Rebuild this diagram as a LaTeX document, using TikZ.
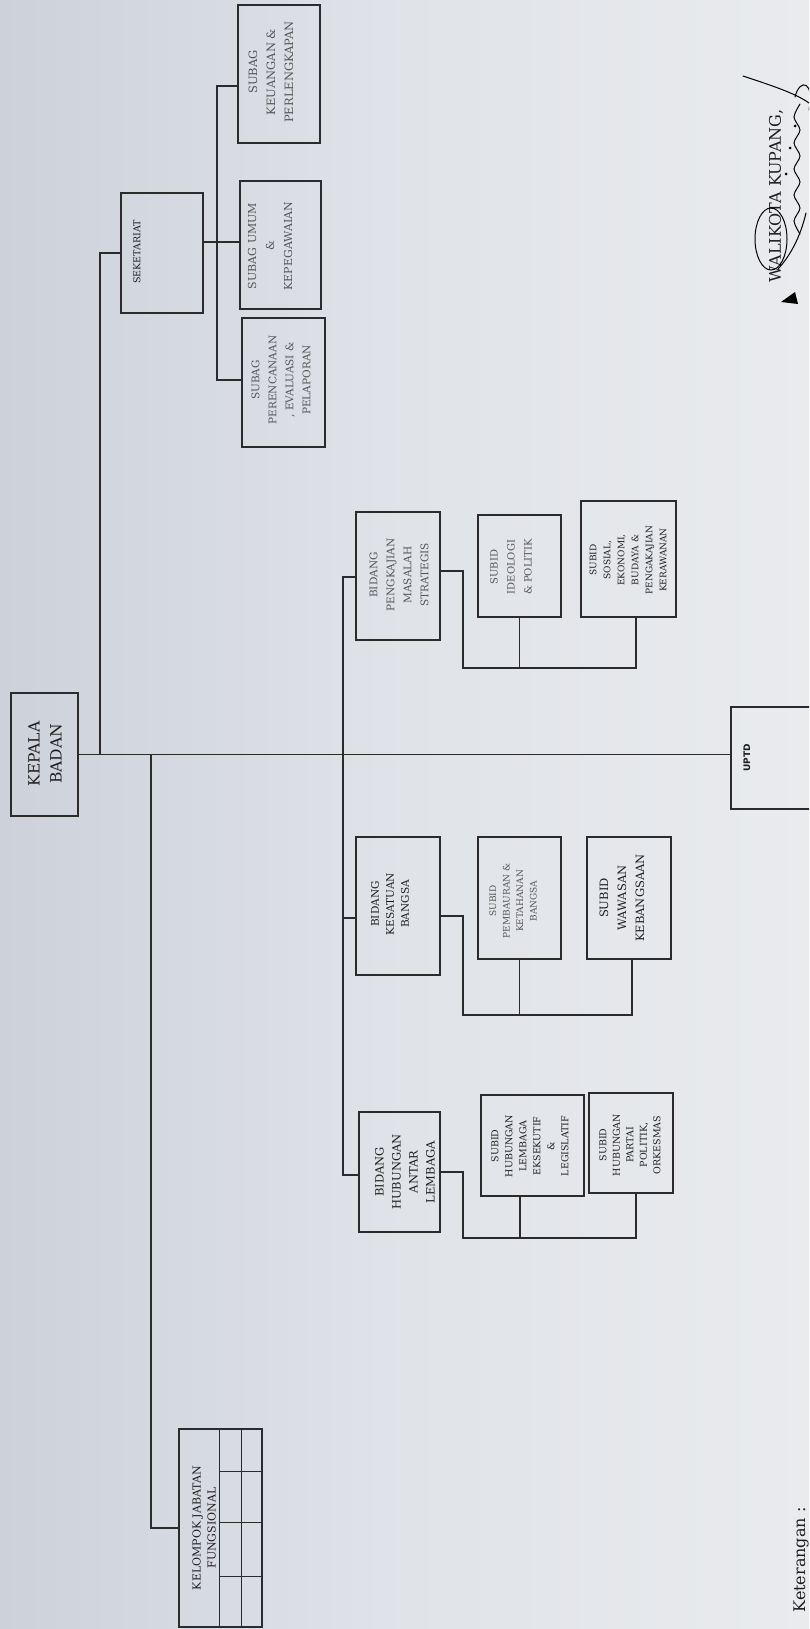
\documentclass[tikz,border=0pt]{standalone}
\usepackage{fontspec}
\setmainfont{DejaVu Serif}
\newfontfamily\sansf{DejaVu Sans}
\usetikzlibrary{calc}
\definecolor{bgdark}{HTML}{CDD1DA}
\definecolor{bgmid}{HTML}{E0E3E8}
\definecolor{bglight}{HTML}{E9EBEE}
\definecolor{linec}{HTML}{2B2B2B}
\definecolor{txtc}{HTML}{1E1E1E}
\definecolor{fadec}{HTML}{555555}
\newcommand\mybox[5]{\node[box,minimum width={#4-#2},minimum height={#5-#3}] (#1) at (#2,#3) {};}
\newcommand\fs[2]{\fontsize{#1}{#2}\selectfont}
\begin{document}
\begin{tikzpicture}[x=1pt,y=-1pt,
  box/.style={draw=linec,line width=1.3pt,inner sep=0pt,outer sep=0pt,anchor=north west},
  conn/.style={draw=linec,line width=1.2pt},
  grid/.style={draw=linec,line width=1pt},
  lbl/.style={rotate=90,align=center,inner sep=0pt,text=txtc},
  fade/.style={text=fadec},
  sig/.style={draw=black,line width=1pt,line cap=round},
]
\useasboundingbox (0,0) rectangle (809,1629);
\shade[left color=bgdark, right color=bglight, middle color=bgmid] (0,0) rectangle (809,1629);
\clip (0,0) rectangle (809,1629);

% boxes
\mybox{kepala}{11}{693}{78}{816}
\mybox{sek}{121}{193}{203}{313}
\mybox{sgk}{238}{5}{320}{143}
\mybox{sgu}{240}{181}{321}{309}
\mybox{sgp}{242}{318}{325}{447}
\mybox{bpm}{356}{512}{440}{640}
\mybox{sid}{478}{515}{561}{617}
\mybox{sso}{581}{501}{676}{617}
\mybox{bks}{356}{837}{440}{975}
\mybox{spb}{478}{837}{561}{959}
\mybox{sww}{587}{837}{671}{959}
\mybox{bhl}{359}{1112}{440}{1232}
\mybox{shl}{481}{1095}{584}{1196}
\mybox{shp}{589}{1093}{673}{1193}
\mybox{uptd}{731}{707}{830}{809}
\mybox{kjf}{179}{1429}{262}{1627}

% main connectors
\draw[conn] (kepala.east) -- (kepala.east -| uptd.west);
\draw[conn] (kepala.east) ++(22,0) |- (sek.west);
\draw[conn] (kepala.east) ++(73,0) |- (kjf.west);
% seketariat group
\draw[conn] ($(sek.north east)+(0,49)$) -- ($(sgu.north west)+(0,61)$);
\draw[conn] ($(sgk.north west)+(0,81)$) -- ++(-21,0) |- ($(sgp.north west)+(0,62)$);
% bidang trunk
\draw[conn] ($(bpm.north west)+(0,65)$) -- ++(-13,0) |- ($(bhl.north west)+(0,63)$);
\draw[conn] ($(bks.north west)+(0,81)$) -- ++(-13,0);
% pengkajian group
\draw[conn] ($(bpm.north east)+(0,59)$) -- ++(23,0) |- ($(sso.south west)+(55,51)$) -- ($(sso.south west)+(55,0)$);
\draw[conn] (sid.south) -- ++(0,51);
% kesatuan group
\draw[conn] ($(bks.north east)+(0,79)$) -- ++(23,0) |- ($(sww.south west)+(45,56)$) -- ($(sww.south west)+(45,0)$);
\draw[conn] (spb.south) -- ++(0,56);
% hubungan group
\draw[conn] ($(bhl.north east)+(0,60)$) -- ++(23,0) |- ($(shp.south west)+(47,45)$) -- ($(shp.south west)+(47,0)$);
\draw[conn] ($(shl.south west)+(39,0)$) -- ++(0,42);

% kelompok grid
\draw[grid] ($(kjf.north west)+(40,0)$) -- ($(kjf.south west)+(40,0)$);
\draw[grid] ($(kjf.north west)+(62,0)$) -- ($(kjf.south west)+(62,0)$);
\foreach \dy in {42,93,147} {
  \draw[grid] ($(kjf.north west)+(40,\dy)$) -- ($(kjf.north east)+(0,\dy)$);
}

% labels
\node[lbl, font=\fs{15.5}{22}] (tkepala) at (45,754) {KEPALA\\BADAN};
\node[lbl, font=\fs{9.5}{12}] (tsek) at (137,252) {SEKETARIAT};
\node[lbl, fade, font=\fs{11.5}{18}] (tsgk) at (271,72) {SUBAG\\KEUANGAN \&\\PERLENGKAPAN};
\node[lbl, fade, font=\fs{11}{18}] (tsgu) at (270,246) {SUBAG UMUM\\\&\\KEPEGAWAIAN};
\node[lbl, fade, font=\fs{10.5}{17}] (tsgp) at (281,380) {SUBAG\\PERENCANAAN\\, EVALUASI \&\\PELAPORAN};
\node[lbl, fade, font=\fs{10.5}{17}] (tbpm) at (399,575) {BIDANG\\PENGKAJIAN\\MASALAH\\STRATEGIS};
\node[lbl, fade, font=\fs{10}{17}] (tsid) at (511,567) {SUBID\\IDEOLOGI\\\& POLITIK};
\node[lbl, font=\fs{9}{14}] (tsso) at (628,560) {SUBID\\SOSIAL,\\EKONOMI,\\BUDAYA \&\\PENGAKAJIAN\\KERAWANAN};
\node[lbl, font=\fs{10.5}{15}] (tbks) at (390,904) {BIDANG\\KESATUAN\\BANGSA};
\node[lbl, fade, font=\fs{9}{13.5}] (tspb) at (513,901) {SUBID\\PEMBAURAN \&\\KETAHANAN\\BANGSA};
\node[lbl, font=\fs{11.5}{18}] (tsww) at (622,898) {SUBID\\WAWASAN\\KEBANGSAAN};
\node[lbl, font=\fs{11.5}{17}] (tbhl) at (405,1172) {BIDANG\\HUBUNGAN\\ANTAR\\LEMBAGA};
\node[lbl, font=\fs{9.5}{14}] (tshl) at (530,1146) {SUBID\\HUBUNGAN\\LEMBAGA\\EKSEKUTIF\\\&\\LEGISLATIF};
\node[lbl, font=\fs{9.5}{13.5}] (tshp) at (630,1145) {SUBID\\HUBUNGAN\\PARTAI\\POLITIK,\\ORKESMAS};
\node[lbl, font=\sansf\bfseries\fs{9}{10}] (tuptd) at (747,758) {UPTD};
\node[lbl, font=\fs{11}{15}] (tkjf) at (204,1528) {KELOMPOK JABATAN\\FUNGSIONAL};
\node[lbl, font=\fs{16}{18}] (twali) at (776,196) {WALIKOTA KUPANG,};
\node[lbl, font=\fs{16}{18}] (tket) at (801,1560) {Keterangan :};

% signature
\draw[sig] (771,239) ellipse [x radius=16, y radius=31];
\draw[sig] plot[smooth] coordinates {(800,104) (794,117) (800,130) (794,143) (800,156) (794,169) (800,182) (794,195) (800,208) (794,221) (800,234)};
\draw[sig] (743,76) .. controls (770,85) and (795,93) .. (809,103);
\draw[sig] (795,97) .. controls (800,77) and (815,82) .. (809,110);
\draw[sig] (778,269) .. controls (790,256) and (800,238) .. (806,213);
\fill (790,148) circle (1.5);
\fill (795,126) circle (1.5);
\fill (786,174) circle (1.5);
\fill (781,302) -- (795,292) -- (798,304) -- cycle;
\end{tikzpicture}
\end{document}
